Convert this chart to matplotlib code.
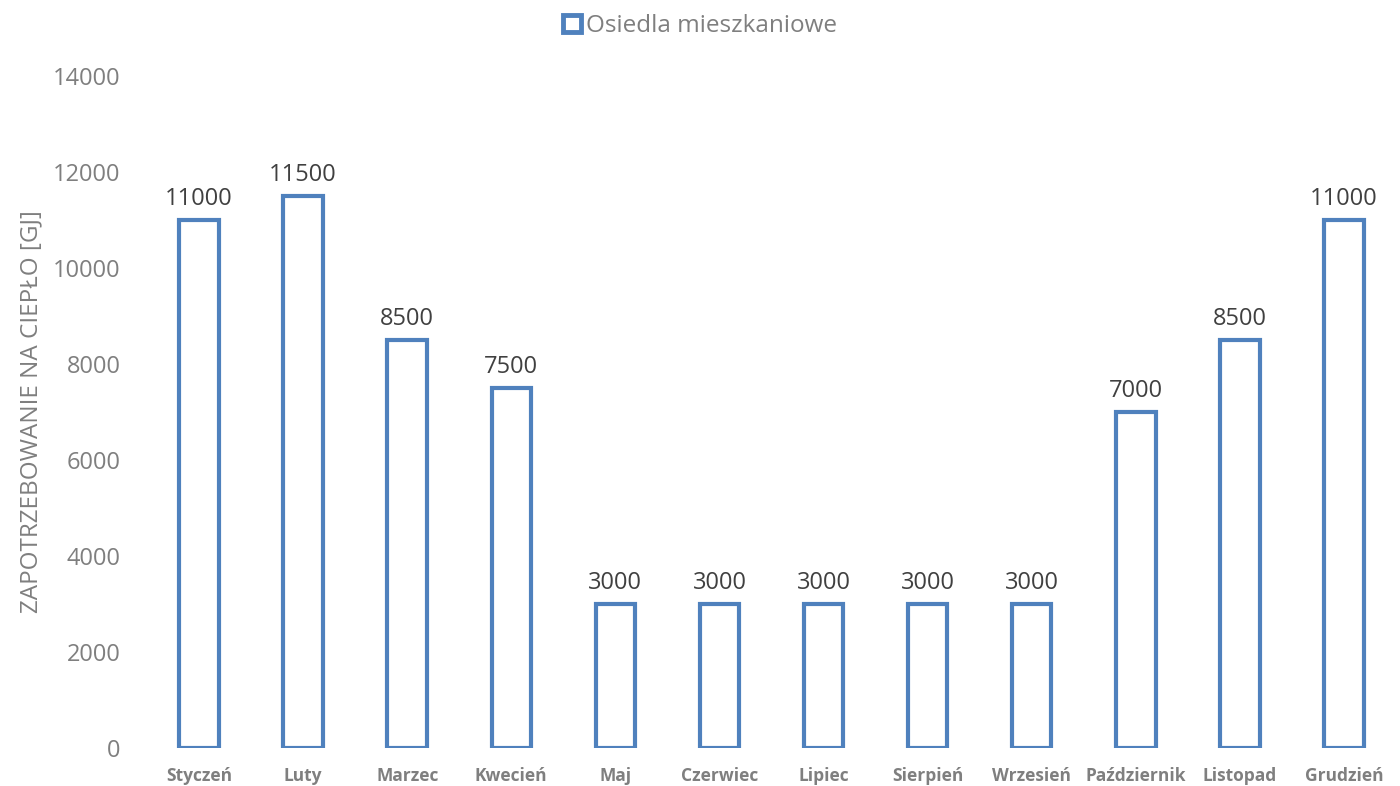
import matplotlib
matplotlib.use("Agg")
import matplotlib.pyplot as plt
from matplotlib.patches import Patch

months = ["Styczeń", "Luty", "Marzec", "Kwecień", "Maj", "Czerwiec", "Lipiec",
          "Sierpień", "Wrzesień", "Październik", "Listopad", "Grudzień"]
values = [11000, 11500, 8500, 7500, 3000, 3000, 3000, 3000, 3000, 7000, 8500, 11000]
yticks = [0, 2000, 4000, 6000, 8000, 10000, 12000, 14000]
series_name = "Osiedla mieszkaniowe"
ylabel = "ZAPOTRZEBOWANIE NA CIEPŁO [GJ]"

plt.rcParams['font.family'] = ['Open Sans', 'DejaVu Sans']
blue = "#4f81bd"

fig = plt.figure(figsize=(14, 7.86), dpi=100)
ax = fig.add_axes([147/1400, 1 - 748/786, (1396-147)/1400, (748-76)/786])

x = list(range(len(months)))
ax.bar(x, values, width=0.38, facecolor="white", edgecolor=blue, linewidth=3)
for xi, v in zip(x, values):
    ax.text(xi, v + 180, str(v), ha="center", va="bottom", fontsize=17, color="#404040")

ax.set_xlim(-0.5, len(months) - 0.5)
ax.set_ylim(0, 14000)
ax.set_yticks(yticks)
ax.set_yticklabels([str(t) for t in yticks], fontsize=17, color="#7f7f7f")
ax.set_xticks(x)
ax.set_xticklabels(months, fontsize=12.5, fontweight="bold", color="#7f7f7f")
ax.tick_params(axis="both", length=0)
ax.tick_params(axis="y", pad=19)
ax.tick_params(axis="x", pad=14)
for s in ax.spines.values():
    s.set_visible(False)
ax.set_ylabel(ylabel, fontsize=17.5, color="#7f7f7f", labelpad=7)

leg = fig.legend(handles=[Patch(facecolor="white", edgecolor=blue, linewidth=3.5, label=series_name)],
                 loc="upper center", bbox_to_anchor=(0.5, 1.01), frameon=False, fontsize=17.5,
                 handlelength=0.75, handleheight=0.75, handletextpad=0.2)
for t in leg.get_texts():
    t.set_color("#7f7f7f")

fig.savefig("out.png", dpi=100)
